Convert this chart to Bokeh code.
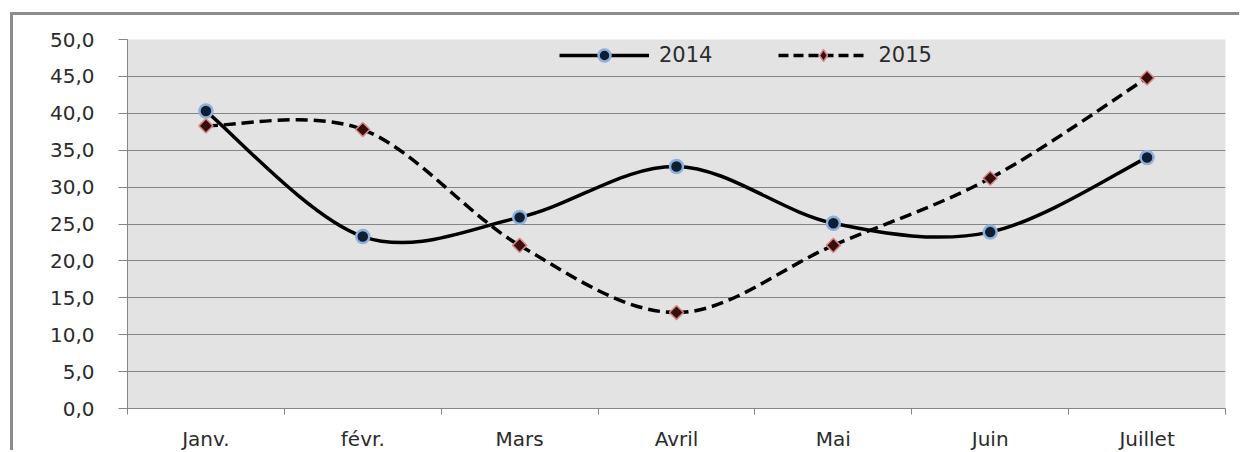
import math
from bokeh.plotting import figure
from bokeh.models import FixedTicker, Range1d, ColumnDataSource, Legend, LegendItem
from bokeh.embed import file_html
from bokeh.resources import INLINE

# Monthly values, two years
months = ["Janv.", "févr.", "Mars", "Avril", "Mai", "Juin", "Juillet"]
series_2014 = [40.3, 23.3, 25.9, 32.8, 25.1, 23.9, 34.0]
series_2015 = [38.3, 37.8, 22.1, 13.0, 22.1, 31.2, 44.8]
y_ticks = [0, 5, 10, 15, 20, 25, 30, 35, 40, 45, 50]

FONT = "DejaVu Sans"
TEXT = "#2b2b2b"
GRID = "#858585"

# categories sit at the centre of each unit slot
xs = [i + 0.5 for i in range(len(months))]


def smooth_segments(x, y):
    """Cubic Bezier control points for a Catmull-Rom style smoothed line."""
    n = len(x)
    segs = dict(x0=[], y0=[], x1=[], y1=[], cx0=[], cy0=[], cx1=[], cy1=[])
    for i in range(n - 1):
        xp, yp = (x[i - 1], y[i - 1]) if i > 0 else (x[i], y[i])
        xn, yn = (x[i + 2], y[i + 2]) if i + 2 < n else (x[i + 1], y[i + 1])
        segs["x0"].append(x[i]); segs["y0"].append(y[i])
        segs["x1"].append(x[i + 1]); segs["y1"].append(y[i + 1])
        segs["cx0"].append(x[i] + (x[i + 1] - xp) / 6)
        segs["cy0"].append(y[i] + (y[i + 1] - yp) / 6)
        segs["cx1"].append(x[i + 1] - (xn - x[i]) / 6)
        segs["cy1"].append(y[i + 1] - (yn - y[i]) / 6)
    return ColumnDataSource(segs)


p = figure(
    width=1229, height=438,
    x_range=Range1d(0, 7), y_range=Range1d(0, 50),
    output_backend="svg", toolbar_location=None,
    min_border_left=114, min_border_right=17, min_border_top=24, min_border_bottom=28,
)
p.styles = {
    "margin-left": "10px", "margin-top": "12px",
    "border-top": "3px solid #8c8c8c", "border-left": "3px solid #8c8c8c",
}

p.background_fill_color = "#e3e3e3"
p.border_fill_color = "white"
p.outline_line_color = None

# horizontal grid only
p.xgrid.grid_line_color = None
p.ygrid.ticker = FixedTicker(ticks=y_ticks)
p.ygrid.grid_line_color = GRID
p.ygrid.grid_line_width = 1

# y axis
p.yaxis.ticker = FixedTicker(ticks=y_ticks)
p.yaxis.major_label_overrides = {t: f"{t:.1f}".replace(".", ",") for t in y_ticks}
p.yaxis.axis_line_color = GRID
p.yaxis.major_tick_line_color = GRID
p.yaxis.major_tick_out = 9
p.yaxis.major_tick_in = 0
p.yaxis.minor_tick_line_color = None
p.yaxis.major_label_standoff = 24
p.yaxis.major_label_text_font = FONT
p.yaxis.major_label_text_font_size = "20px"
p.yaxis.major_label_text_color = TEXT

# x axis: labels at slot centres, ticks at slot boundaries
p.xaxis.ticker = FixedTicker(ticks=xs, minor_ticks=list(range(len(months) + 1)))
p.xaxis.major_label_overrides = {x: m for x, m in zip(xs, months)}
p.xaxis.axis_line_color = GRID
p.xaxis.major_tick_line_color = None
p.xaxis.major_tick_out = 0
p.xaxis.major_tick_in = 0
p.xaxis.minor_tick_line_color = GRID
p.xaxis.minor_tick_out = 6
p.xaxis.minor_tick_in = 0
p.xaxis.major_label_standoff = 12
p.xaxis.major_label_text_font = FONT
p.xaxis.major_label_text_font_size = "20px"
p.xaxis.major_label_text_color = TEXT

LW = 3.5
DASH = "12 6"
DIAMOND_STYLE = dict(fill_color="#3a0d0d", line_color="#d48a8a", line_width=1.5)
CIRCLE = dict(marker="circle", fill_color="#0f1f33", line_color="#8fb0d8", line_width=2.5)

# 2014: solid smoothed line, round markers
s14 = smooth_segments(xs, series_2014)
p.bezier(x0="x0", y0="y0", x1="x1", y1="y1", cx0="cx0", cy0="cy0", cx1="cx1", cy1="cy1",
         source=s14, line_color="black", line_width=LW)
p.scatter(xs, series_2014, size=13, **CIRCLE)

# 2015: dashed smoothed line, diamond markers (rotated squares)
s15 = smooth_segments(xs, series_2015)
p.bezier(x0="x0", y0="y0", x1="x1", y1="y1", cx0="cx0", cy0="cy0", cx1="cx1", cy1="cy1",
         source=s15, line_color="black", line_width=LW, line_dash=DASH)
p.scatter(xs, series_2015, size=10, marker="square", angle=math.pi / 4, **DIAMOND_STYLE)

# legend proxies
l14 = p.line([0], [0], line_color="black", line_width=LW, visible=False)
l15 = p.line([0], [0], line_color="black", line_width=LW, line_dash="10 5", visible=False)
k14 = p.scatter([0], [0], size=12, visible=False, **CIRCLE)
k15 = p.scatter([0], [0], size=12, marker="diamond", visible=False, **DIAMOND_STYLE)

legend = Legend(
    items=[LegendItem(label="2014", renderers=[l14, k14]),
           LegendItem(label="2015", renderers=[l15, k15])],
    orientation="horizontal",
    glyph_width=90, glyph_height=30, spacing=66, label_standoff=10,
    label_text_font=FONT, label_text_font_size="21px", label_text_color=TEXT,
    background_fill_alpha=0, border_line_color=None,
    margin=0, padding=2,
)
legend.location = (432, 338)
p.add_layout(legend)

open("out.html", "w").write(file_html(p, INLINE))
